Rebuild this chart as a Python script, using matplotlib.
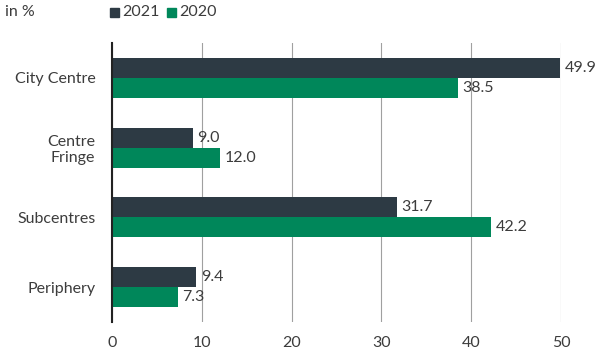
import matplotlib.pyplot as plt
import numpy as np

categories = ['City Centre', 'Centre\nFringe', 'Subcentres', 'Periphery']
values_2021 = [49.9, 9.0, 31.7, 9.4]
values_2020 = [38.5, 12.0, 42.2, 7.3]
x_ticks = [0, 10, 20, 30, 40, 50]

DARK = '#2d3a44'
GREEN = '#00875a'
TEXT = '#3c3c3c'

plt.rcParams['font.family'] = ['Lato', 'DejaVu Sans']

fig = plt.figure(figsize=(6.01, 3.52), dpi=100)
ax = fig.add_axes([112 / 601, 1 - 322 / 352, (561 - 112) / 601, (322 - 43) / 352])

y = np.arange(len(categories))
h = 0.285
bars21 = ax.barh(y - h / 2, values_2021, height=h, color=DARK, zorder=3)
bars20 = ax.barh(y + h / 2, values_2020, height=h, color=GREEN, zorder=3)

# value labels
for bars in (bars21, bars20):
    for bar in bars:
        w = bar.get_width()
        ax.text(w + 0.5, bar.get_y() + bar.get_height() / 2, f'{w:.1f}',
                va='center', ha='left', fontsize=11.5, color=TEXT, clip_on=False)

ax.set_xlim(0, 50)
ax.set_ylim(len(categories) - 0.5, -0.5)
ax.set_xticks(x_ticks)
ax.set_yticks(y)
ax.set_yticklabels(categories, fontsize=11.5, color=TEXT, linespacing=1.2)
ax.tick_params(axis='x', length=0, pad=10, labelsize=11.5, labelcolor=TEXT)
ax.tick_params(axis='y', length=0, pad=12)
ax.grid(axis='x', color='#a0a0a0', linewidth=0.8, zorder=0)

for s in ['top', 'right', 'bottom']:
    ax.spines[s].set_visible(False)
ax.spines['left'].set_color('#222222')
ax.spines['left'].set_linewidth(1.5)
ax.spines['left'].set_zorder(4)

# header and legend
fig.text(5 / 601, 1 - 12 / 352, 'in %', fontsize=11.5, color=TEXT, va='center', ha='left')
fig.patches.append(plt.Rectangle((110 / 601, 1 - 17 / 352), 9 / 601, 9 / 352,
                                 transform=fig.transFigure, color=DARK))
fig.text(122 / 601, 1 - 12 / 352, '2021', fontsize=11.5, color=TEXT, va='center', ha='left')
fig.patches.append(plt.Rectangle((167 / 601, 1 - 17 / 352), 9 / 601, 9 / 352,
                                 transform=fig.transFigure, color=GREEN))
fig.text(179 / 601, 1 - 12 / 352, '2020', fontsize=11.5, color=TEXT, va='center', ha='left')

fig.savefig('out.png', dpi=100)
